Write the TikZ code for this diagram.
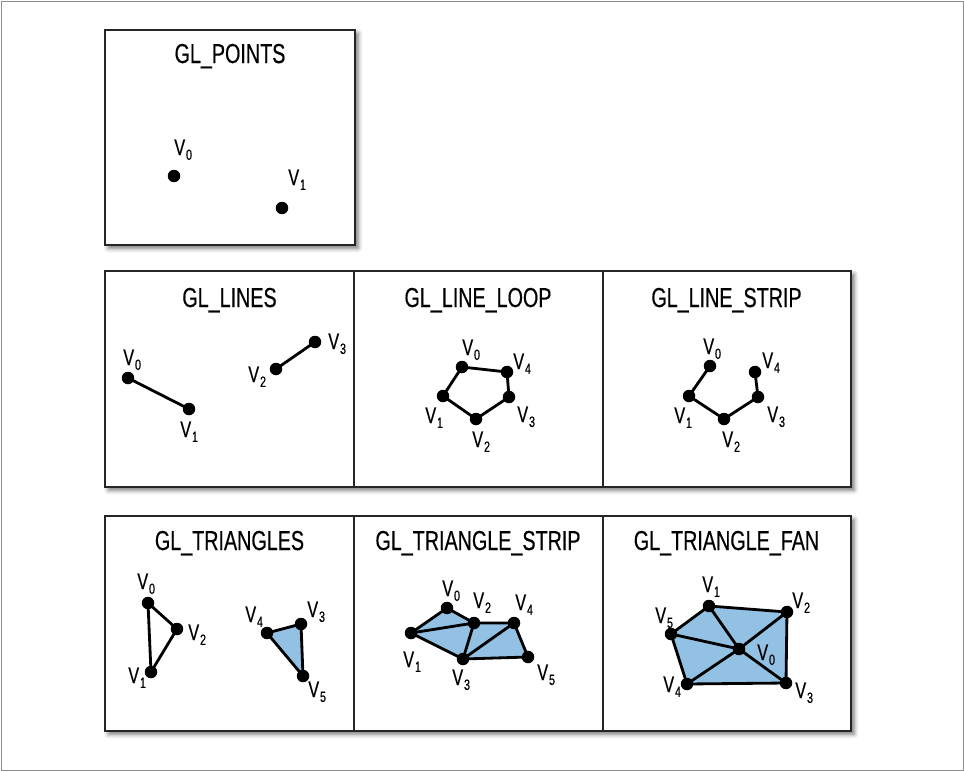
\documentclass[tikz,border=0pt]{standalone}
\usepackage{fontspec}
\setmainfont{Liberation Sans}[FakeStretch=0.72, FakeBold=0.4]
\usepackage{tikz}
\usetikzlibrary{shadows.blur}
\definecolor{glblue}{RGB}{146,193,227}

\tikzset{
  panel/.style={draw=black!85, line width=1.1pt, fill=white,
    blur shadow={shadow xshift=1.8pt, shadow yshift=-1.8pt,
                 shadow blur radius=2.5pt, shadow opacity=55}},
  divider/.style={draw=black!85, line width=1.1pt},
  title/.style={anchor=base, inner sep=0pt, font=\fontsize{15.6}{18}\selectfont},
  vdot/.style={circle, fill=black, inner sep=0pt, minimum size=0.25cm},
  vlabel/.style={anchor=base west, inner sep=0pt, font=\fontsize{12.8}{14}\selectfont},
  edge/.style={line width=1.6pt, line join=round},
  tri/.style={fill=glblue}
}
\newcommand{\vx}[1]{V\kern0.5pt\raisebox{-2.8pt}{\fontsize{8.5}{9}\selectfont #1}}

\begin{document}
\begin{tikzpicture}[x=0.02cm, y=-0.02cm]
  \useasboundingbox (0,0) rectangle (964,771);
  \draw[black!45, line width=0.5pt] (1,1) rectangle (963,770);

  % frames
  \draw[panel] (105,30) rectangle (355,245);
  \draw[panel] (105,271) rectangle (851,487);
  \draw[divider] (354,271) -- (354,487);
  \draw[divider] (603,271) -- (603,487);
  \draw[panel] (105,516) rectangle (851,731);
  \draw[divider] (354,516) -- (354,731);
  \draw[divider] (603,516) -- (603,731);

  % titles
  \node[title] (tpoints) at (230,63)    {GL\_POINTS};
  \node[title] (tlines)  at (229.5,307) {GL\_LINES};
  \node[title] (tloop)   at (478,307)   {GL\_LINE\_LOOP};
  \node[title] (tstrip)  at (726.5,307) {GL\_LINE\_STRIP};
  \node[title] (ttris)   at (229.5,550) {GL\_TRIANGLES};
  \node[title] (ttstrip) at (478,550)   {GL\_TRIANGLE\_STRIP};
  \node[title] (tfan)    at (726.5,550) {GL\_TRIANGLE\_FAN};

  % vertex positions
  \foreach \n/\p in {p0/{174,176}, p1/{282,208},
      l0/{128,378}, l1/{189,409}, l2/{276,369}, l3/{315,342},
      o0/{462,367}, o1/{443,396}, o2/{476,419}, o3/{509,397}, o4/{507,372},
      s0/{710,366}, s1/{689,396}, s2/{724,419}, s3/{758,397}, s4/{755,372},
      t0/{148,603}, t1/{151,672}, t2/{177,629}, t3/{301,624}, t4/{267,633}, t5/{303,676},
      r0/{447,608}, r1/{411,633}, r2/{474,623}, r3/{463,659}, r4/{514,623}, r5/{528,657},
      f0/{739,649}, f1/{709,606}, f2/{787,612}, f3/{786,683}, f4/{687,684}, f5/{671,634}}
    \coordinate (\n) at (\p);

  % primitives
  \draw[edge] (l0) -- (l1);
  \draw[edge] (l2) -- (l3);
  \draw[edge] (o0) -- (o1) -- (o2) -- (o3) -- (o4) -- cycle;
  \draw[edge] (s0) -- (s1) -- (s2) -- (s3) -- (s4);
  \draw[edge] (t0) -- (t1) -- (t2) -- cycle;
  \filldraw[tri, edge] (t3) -- (t4) -- (t5) -- cycle;
  \filldraw[tri, edge] (r1) -- (r0) -- (r2) -- (r4) -- (r5) -- (r3) -- cycle;
  \draw[edge] (r1) -- (r2) -- (r3) -- (r4);
  \filldraw[tri, edge] (f1) -- (f2) -- (f3) -- (f4) -- (f5) -- cycle;
  \foreach \i in {1,...,5}
    \draw[edge] (f0) -- (f\i);

  % dots
  \foreach \n in {p0,p1,l0,l1,l2,l3,o0,o1,o2,o3,o4,s0,s1,s2,s3,s4,
      t0,t1,t2,t3,t4,t5,r0,r1,r2,r3,r4,r5,f0,f1,f2,f3,f4,f5}
    \node[vdot] (\n-dot) at (\n) {};

  % labels
  \foreach \n/\i/\q in {p0/0/{174,155}, p1/1/{288,185},
      l0/0/{123,365}, l1/1/{180,437}, l2/2/{248,382}, l3/3/{328,349},
      o0/0/{462,355}, o1/1/{425,423}, o2/2/{472,447}, o3/3/{517,422}, o4/4/{513,369},
      s0/0/{703,354}, s1/1/{674,423}, s2/2/{722,447}, s3/3/{767,422}, s4/4/{762,368},
      t0/0/{137,589}, t1/1/{128,683}, t2/2/{188,640}, t3/3/{307,617}, t4/4/{245,622}, t5/5/{308,697},
      r0/0/{442,596}, r1/1/{403,667}, r2/2/{473,608}, r3/3/{452,685}, r4/4/{515,610}, r5/5/{537,680},
      f0/0/{757,660}, f1/1/{702,592}, f2/2/{792,608}, f3/3/{795,698}, f4/4/{663,692}, f5/5/{655,623}}
    \node[vlabel] (\n-lab) at (\q) {\vx{\i}};
\end{tikzpicture}
\end{document}
